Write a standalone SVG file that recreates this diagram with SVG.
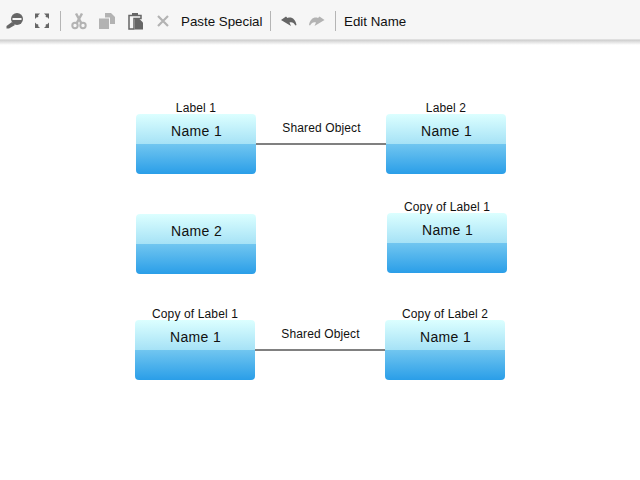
<svg xmlns="http://www.w3.org/2000/svg" width="640" height="480" viewBox="0 0 640 480">
<style>
text{font-family:"Liberation Sans",Arial,sans-serif;fill:#111}
.tb{font-size:13.33px}
.lb{font-size:12px;text-anchor:middle;letter-spacing:.13px}
.nm{font-size:14px;text-anchor:middle;letter-spacing:.35px}
.sep{stroke:#b5b5b5;stroke-width:1}
.cn{stroke:#808080;stroke-width:2;fill:none}
.dk{fill:#666}
.lt{fill:#b3b3b3}
</style>
<defs>
<linearGradient id="g" x1="0" y1="0" x2="0" y2="1">
<stop offset="0" stop-color="#dcffff"/><stop offset=".5" stop-color="#a6e2f6"/><stop offset=".5" stop-color="#71c6f0"/><stop offset="1" stop-color="#2a9ee8"/>
</linearGradient>
<linearGradient id="sh" x1="0" y1="0" x2="0" y2="1"><stop offset="0" stop-color="#c4c4c4"/><stop offset="1" stop-color="#fff"/></linearGradient>
<rect id="box" width="120" height="60" rx="4" ry="4" fill="url(#g)"/>
</defs>
<rect width="640" height="480" fill="#fff"/>
<g id="toolbar">
<rect y="39" width="640" height="6" fill="url(#sh)"/>
<rect width="640" height="39.500" fill="#f6f6f6"/>
<g id="zoom-out" class="dk"><circle cx="17" cy="19" r="6"/><rect x="12.500" y="18" width="9" height="2" fill="#f6f6f6"/><path d="M12 22l3 3-6 3.500h-2.500v-2.500z"/></g>
<g id="fit" class="dk"><path d="M35 13.500h5l-2 2 .5 1-1 1-.5-.5-2 2zM49 13.500h-5l2 2-.5 1 1 1 .5-.5 2 2zM35 28h5l-2-2 .5-1-1-1-.5.500-2-2zM49 28h-5l2-2-.5-1 1-1 .5.500 2-2z"/></g>
<line class="sep" x1="60.500" y1="11" x2="60.500" y2="31"/>
<g id="cut" fill="none" stroke="#b3b3b3" stroke-width="2"><path d="M76 13.500l5.500 10M82 13.500l-5.500 10" stroke-width="2.500"/><circle cx="75" cy="25.500" r="2.700"/><circle cx="83" cy="25.500" r="2.700"/></g>
<g id="copy" class="lt"><path d="M105 13h6l4 4v7h-5v-6.500h-5z"/><path d="M99 18.500h10v10.500h-10z"/></g>
<g id="paste"><path d="M129 15.500h12v3h-7v10.500h-5z" fill="none" stroke="#666" stroke-width="1.500"/><rect x="132" y="13" width="6" height="3" fill="#666"/><path class="dk" d="M135 18.500h4l4 4v7h-8z"/></g>
<path id="delete" d="M158 16l10 10M168 16l-10 10" stroke="#b3b3b3" stroke-width="2.200" fill="none"/>
<text class="tb" x="181" y="26">Paste Special</text>
<line class="sep" x1="270.500" y1="11" x2="270.500" y2="31"/>
<path id="undo" class="dk" d="M281 20l5-3.500 1.500 1.500c4-1.500 8 1 9 7l-1 .5c-1.500-3-4-4-6-3l1.500 3.500z"/>
<path id="redo" class="lt" d="M324.500 20l-5-3.500-1.500 1.500c-4-1.500-8 1-9 7l1 .5c1.500-3 4-4 6-3l-1.500 3.500z"/>
<line class="sep" x1="335.500" y1="11" x2="335.500" y2="31"/>
<text class="tb" x="344" y="26">Edit Name</text>
</g>
<g id="connectors">
<line class="cn" x1="256" y1="144" x2="386" y2="144"/>
<line class="cn" x1="255" y1="350" x2="385" y2="350"/>
</g>
<g id="connector-labels">
<text class="lb" x="321.500" y="132">Shared Object</text>
<text class="lb" x="320.500" y="338">Shared Object</text>
</g>
<g id="node1"><use href="#box" x="136" y="114"/><text class="lb" x="196" y="112">Label 1</text><text class="nm" x="196.500" y="136">Name 1</text></g>
<g id="node2"><use href="#box" x="386" y="114"/><text class="lb" x="446" y="112">Label 2</text><text class="nm" x="446.500" y="136">Name 1</text></g>
<g id="node3"><use href="#box" x="136" y="214"/><text class="nm" x="196.500" y="236">Name 2</text></g>
<g id="node4"><use href="#box" x="387" y="213"/><text class="lb" x="447" y="211">Copy of Label 1</text><text class="nm" x="447.500" y="235">Name 1</text></g>
<g id="node5"><use href="#box" x="135" y="320"/><text class="lb" x="195" y="318">Copy of Label 1</text><text class="nm" x="195.500" y="342">Name 1</text></g>
<g id="node6"><use href="#box" x="385" y="320"/><text class="lb" x="445" y="318">Copy of Label 2</text><text class="nm" x="445.500" y="342">Name 1</text></g>
</svg>
